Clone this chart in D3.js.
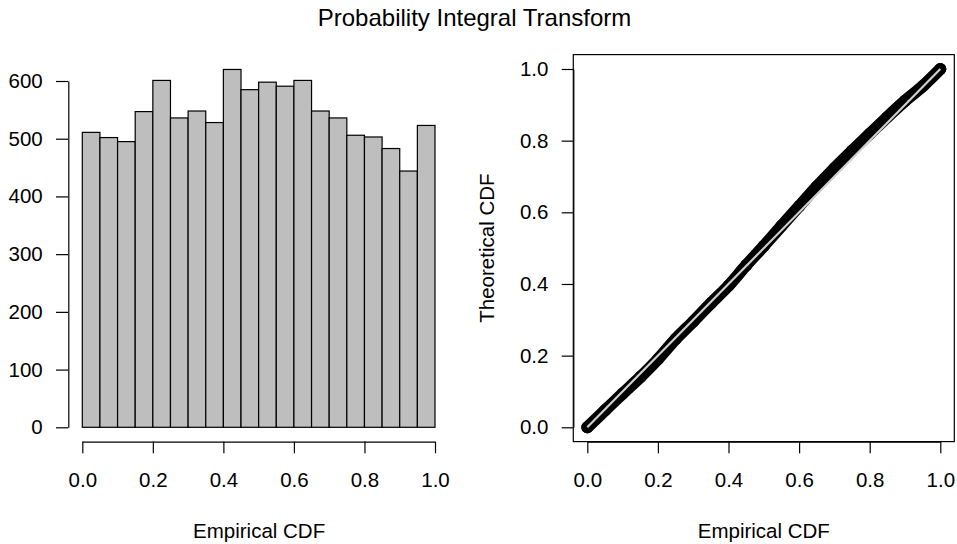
<!DOCTYPE html>
<html>
<head>
<meta charset="utf-8">
<script src="https://cdn.jsdelivr.net/npm/d3@7/dist/d3.min.js"></script>
<style>
  html, body { margin: 0; padding: 0; background: #fff; }
  svg { display: block; }
  text { font-family: "Liberation Sans", Arial, Helvetica, sans-serif; fill: #000; }
</style>
</head>
<body>
<svg id="chart" width="957" height="544"></svg>
<script>
// ---- data ----
const title = "Probability Integral Transform";
const xLabel = "Empirical CDF";
const yLabelRight = "Theoretical CDF";
const binEdges = [0, 0.05, 0.10, 0.15, 0.20, 0.25, 0.30, 0.35, 0.40, 0.45, 0.50,
                  0.55, 0.60, 0.65, 0.70, 0.75, 0.80, 0.85, 0.90, 0.95, 1.00];
const binCounts = [511, 502, 495, 547, 601, 536, 548, 528, 620, 585,
                   598, 591, 601, 548, 536, 506, 503, 483, 444, 523];
const histYTicks = [0, 100, 200, 300, 400, 500, 600];
const unitTicks = [0, 0.2, 0.4, 0.6, 0.8, 1.0];
// PP-plot points (empirical, theoretical)
const ppX = [0, 0.05, 0.10, 0.15, 0.20, 0.25, 0.30, 0.35, 0.40, 0.45, 0.50,
             0.55, 0.60, 0.65, 0.70, 0.75, 0.80, 0.85, 0.90, 0.95, 1.00];
const ppY = [0, 0.047, 0.094, 0.140, 0.190, 0.246, 0.295, 0.346, 0.395, 0.452, 0.506,
             0.562, 0.617, 0.672, 0.723, 0.772, 0.819, 0.866, 0.911, 0.952, 1.000];
const refLine = [[0, 0], [1, 1]];

// ---- layout ----
const svg = d3.select("#chart");
const FS = 20.5;
const axisColor = "#000";
const lw = 1.2;

// Left histogram scales
const xL = d3.scaleLinear().domain([0, 1]).range([82.3, 435]);
const yL = d3.scaleLinear().domain([0, 600]).range([427.3, 81]);
const leftAxisX = 68.3;
const bottomAxisY = 441.6;

// Right PP scales
const xR = d3.scaleLinear().domain([0, 1]).range([587.3, 940.3]);
const yR = d3.scaleLinear().domain([0, 1]).range([427.3, 69]);
const boxR = { x0: 573.3, x1: 954.3, y0: 54.6, y1: 441.6 };

// Title
svg.append("text")
  .attr("x", 474.5).attr("y", 25.5)
  .attr("text-anchor", "middle")
  .style("font-size", "24px")
  .text(title);

// ---- Histogram ----
const gL = svg.append("g");
gL.selectAll("rect.bar")
  .data(binCounts)
  .join("rect")
  .attr("class", "bar")
  .attr("x", (d, i) => xL(binEdges[i]))
  .attr("width", (d, i) => xL(binEdges[i + 1]) - xL(binEdges[i]))
  .attr("y", d => yL(d))
  .attr("height", d => yL(0) - yL(d))
  .attr("fill", "#bebebe")
  .attr("stroke", "#000")
  .attr("stroke-width", lw);

function styleAxis(g) {
  g.selectAll("path.domain").attr("stroke", axisColor).attr("stroke-width", lw);
  g.selectAll(".tick line").attr("stroke", axisColor).attr("stroke-width", lw);
  g.selectAll(".tick text")
    .style("font-size", FS + "px")
    .style("font-family", "'Liberation Sans', Arial, sans-serif")
    .attr("fill", "#000");
}

// Left y axis
const gLy = svg.append("g")
  .attr("transform", `translate(${leftAxisX},0)`)
  .call(d3.axisLeft(yL).tickValues(histYTicks).tickFormat(d3.format("d"))
        .tickSize(12.3).tickSizeOuter(0).tickPadding(13.3));
styleAxis(gLy);

// Left x axis
const gLx = svg.append("g")
  .attr("transform", `translate(0,${bottomAxisY})`)
  .call(d3.axisBottom(xL).tickValues(unitTicks).tickFormat(d3.format(".1f"))
        .tickSize(11.7).tickSizeOuter(0).tickPadding(19));
styleAxis(gLx);

svg.append("text")
  .attr("x", xL(0.5) + 0.5).attr("y", 537.5)
  .attr("text-anchor", "middle")
  .style("font-size", FS + "px")
  .text(xLabel);

// ---- PP plot ----
const gR = svg.append("g");
const pts = ppX.map((x, i) => [x, ppY[i]]);
const lineGen = d3.line().x(d => xR(d[0])).y(d => yR(d[1])).curve(d3.curveMonotoneX);

gR.append("path")
  .datum(pts)
  .attr("d", lineGen)
  .attr("fill", "none")
  .attr("stroke", "#000")
  .attr("stroke-width", 12)
  .attr("stroke-linecap", "round")
  .attr("stroke-linejoin", "round");

gR.selectAll("circle.pt")
  .data(pts)
  .join("circle")
  .attr("class", "pt")
  .attr("cx", d => xR(d[0]))
  .attr("cy", d => yR(d[1]))
  .attr("r", 4.6)
  .attr("fill", "none")
  .attr("stroke", "#000")
  .attr("stroke-width", 3);

gR.append("path")
  .datum(refLine)
  .attr("d", d3.line().x(d => xR(d[0])).y(d => yR(d[1])))
  .attr("fill", "none")
  .attr("stroke", "#cfcfcf")
  .attr("stroke-width", 2.2);

// Box
svg.append("rect")
  .attr("x", boxR.x0).attr("y", boxR.y0)
  .attr("width", boxR.x1 - boxR.x0).attr("height", boxR.y1 - boxR.y0)
  .attr("fill", "none").attr("stroke", "#000").attr("stroke-width", lw);

// Right y axis
const gRy = svg.append("g")
  .attr("transform", `translate(${boxR.x0},0)`)
  .call(d3.axisLeft(yR).tickValues(unitTicks).tickFormat(d3.format(".1f"))
        .tickSize(11.6).tickSizeOuter(0).tickPadding(13.3));
styleAxis(gRy);

// Right x axis
const gRx = svg.append("g")
  .attr("transform", `translate(0,${boxR.y1})`)
  .call(d3.axisBottom(xR).tickValues(unitTicks).tickFormat(d3.format(".1f"))
        .tickSize(11.7).tickSizeOuter(0).tickPadding(19));
styleAxis(gRx);

svg.append("text")
  .attr("x", (boxR.x0 + boxR.x1) / 2).attr("y", 537.5)
  .attr("text-anchor", "middle")
  .style("font-size", FS + "px")
  .text(xLabel);

svg.append("text")
  .attr("transform", `translate(494,${(boxR.y0 + boxR.y1) / 2}) rotate(-90)`)
  .attr("text-anchor", "middle")
  .style("font-size", FS + "px")
  .text(yLabelRight);
</script>
</body>
</html>
